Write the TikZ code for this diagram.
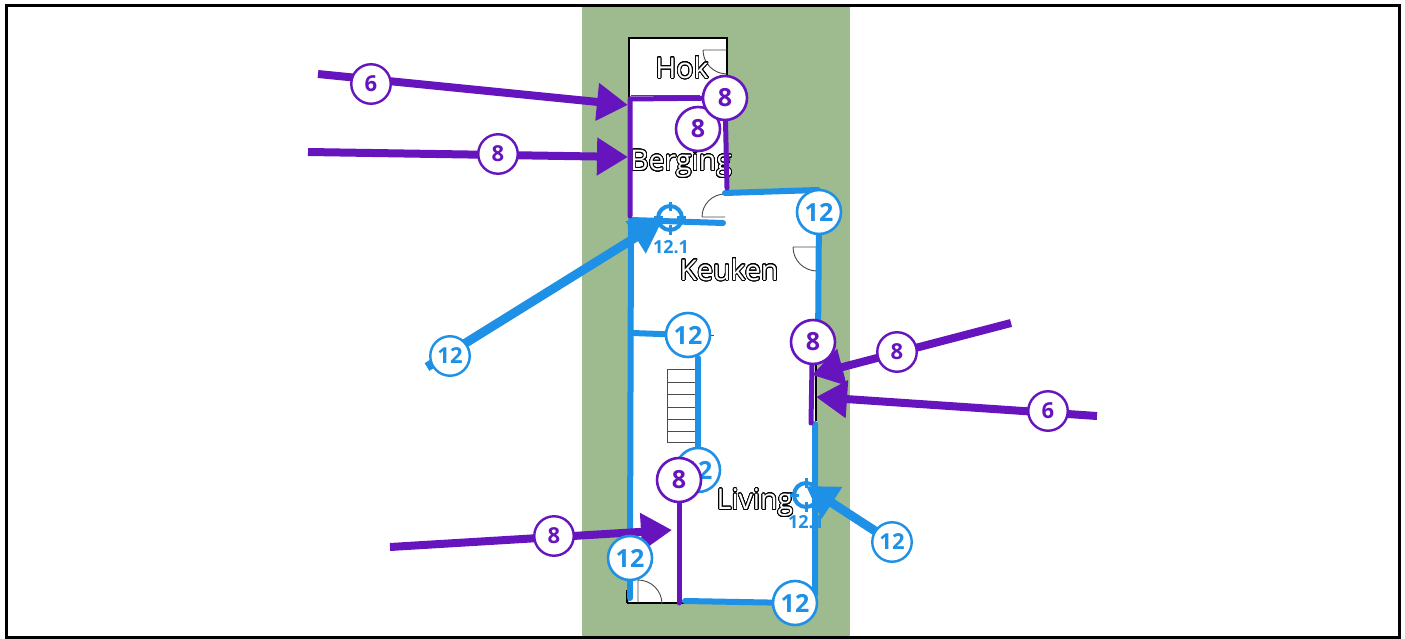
\documentclass[tikz,border=0pt]{standalone}
\usepackage{fontspec}
\setmainfont{Open Sans}
\usepackage[copies]{contour}
\contourlength{0.8pt}
\contournumber{32}
\usetikzlibrary{arrows.meta}
\definecolor{pur}{HTML}{6614BE}
\definecolor{blu}{HTML}{1E90E6}
\definecolor{grn}{HTML}{9DBB8F}
\tikzset{x=1pt,y=-1pt,
 bigb/.style={circle,draw,fill=white,line width=2.6pt,minimum size=44pt,inner sep=0pt,font=\fontsize{25}{25}\selectfont\bfseries},
 smallb/.style={circle,draw,fill=white,line width=2.4pt,minimum size=39.5pt,inner sep=0pt,font=\fontsize{22}{22}\selectfont\bfseries},
 purb/.style={draw=pur,text=pur},
 blub/.style={draw=blu,text=blu},
 wallp/.style={draw=pur,line width=5pt,line cap=round,line join=round},
 wallb/.style={draw=blu,line width=6pt,line cap=round,line join=round},
 arrp/.style={draw=pur,line width=8pt,-{Triangle[length=31pt,width=36pt]}},
 arrb/.style={draw=blu,line width=9pt,-{Triangle[length=31pt,width=36pt]}},
 room/.style={font=\fontsize{28.5}{28.5}\selectfont,inner sep=0pt},
 thin/.style={draw=black!70,line width=0.9pt},
 wall/.style={draw=black,line width=1.6pt},
 tlabel/.style={text=blu,font=\fontsize{18}{18}\selectfont\bfseries,inner sep=0pt},
 target/.style={circle,draw=blu,line width=4pt,fill=none,minimum size=24pt,inner sep=0pt},
 tick/.style={draw=blu,line width=3pt},
}
\newcommand{\roomtext}[1]{\contour{black}{\textcolor{white}{#1}}}
\begin{document}
\begin{tikzpicture}
\useasboundingbox (0,0) rectangle (1405,639);
\fill[white] (0,0) rectangle (1405,639);
\fill[grn] (582,6) rectangle (850,639);
% house
\fill[white] (629,38) -- (727,38) -- (727,192) -- (818,191) -- (816,603) -- (629,603) -- cycle;
\draw[wall] (629,100) -- (629,38) -- (727,38) -- (727,96);
\draw[thin] (631,95) -- (700,95);
\draw[wall] (627,603) -- (815,603);
\draw[wall] (627,603) -- (627,590);
\draw[wall] (816,365) -- (816,421);
% doors
\draw[thin] (703,50) -- (727,50) (703,50) arc[start angle=180,end angle=90,radius=24];
\draw[thin] (702,217) -- (725,217) (702,217) arc[start angle=180,end angle=270,radius=23];
\draw[thin] (793,247) -- (817,247) (793,247) arc[start angle=180,end angle=90,radius=24];
\draw[thin] (638,603) -- (638,580) arc[start angle=270,end angle=360,radius=24];
\draw[thin] (707,335) -- (714,335);
% stairs
\draw[thin] (667,369) rectangle (695,442);
\foreach \yy in {382,394,407,419,431}{\draw[thin] (667,\yy) -- (695,\yy);}
% room names
\node[room] (hok) at (682,68) {\roomtext{Hok}};
\node[room] (berging) at (681,164) {\roomtext{Berging}};
\node[room] (keuken) at (729,270) {\roomtext{Keuken}};
\node[room] (living) at (755,503) {\roomtext{Living}};
% free ends
\coordinate (pTL) at (630,99);
\coordinate (pBL) at (630,216);
\coordinate (pBR) at (727,188);
\coordinate (bK1) at (725,193);
\coordinate (bK1b) at (818,190);
\coordinate (bK2) at (723,223);
\coordinate (bK3) at (631,220);
\coordinate (bK4) at (630,598);
\coordinate (bL1) at (632,333);
\coordinate (bE1) at (818,345);
\coordinate (bE2) at (815,424);
\coordinate (bE3) at (815,595);
\coordinate (bS1) at (685,601);
\coordinate (bC) at (698,358);
\coordinate (pS) at (679,603);
\coordinate (pE) at (811,423);
\coordinate (pEt) at (812,365);
\coordinate (t1) at (318,74); \coordinate (h1) at (628,105);
\coordinate (t2) at (308,152); \coordinate (h2) at (628,157);
\coordinate (t3) at (1011,323); \coordinate (h3) at (812,375);
\coordinate (t4) at (1097,416); \coordinate (h4) at (816,397);
\coordinate (t5) at (390,547); \coordinate (h5) at (672,530);
\coordinate (t6) at (427,367); \coordinate (h6) at (662,221);
\coordinate (t7) at (892,542); \coordinate (h7) at (806,486);
% anchor points for the badges
\path
 coordinate (c1) at (725,98)
 coordinate (c2) at (698,129)
 coordinate (c3) at (819,212)
 coordinate (c4) at (688,335)
 coordinate (c5) at (813,342)
 coordinate (c6) at (698,470)
 coordinate (c7) at (679,480)
 coordinate (c8) at (630,558)
 coordinate (c9) at (795,603);
% walls
\draw[wallb] (bK1) -- (bK1b) -- (c3);
\draw[wallb] (c3) -- (bE1);
\draw[wallb] (bE2) -- (bE3) -- (c9);
\draw[wallb] (c9) -- (bS1);
\draw[wallb] (bK2) -- (bK3) -- (c8);
\draw[wallb] (c8) -- (bK4);
\draw[wallb] (bL1) -- (c4);
\draw[wallb] (bC) -- (c6);
\draw[wallp] (pBL) -- (pTL) -- (c1);
\draw[wallp] (c1) -- (pBR);
\draw[wallp] (c2) -- (c1);
\draw[wallp] (pEt) -- (pE);
\draw[wallp] (c7) -- (pS);
% targets
\node[target] (m1) at (670,218) {};
\draw[tick] (670,202) -- (670,211) (670,225) -- (670,235);
\draw[tick] (654,218) -- (663,218) (677,218) -- (686,218);
\node[tlabel] (l1) at (671,247) {12.1};
\node[target] (m2) at (806,495) {};
\draw[tick] (806,478) -- (806,488) (806,502) -- (806,512);
\draw[tick] (790,495) -- (799,495) (813,495) -- (822,495);
\node[tlabel] (l2) at (806,522) {12.1};
% arrows
\draw[arrp] (t1) -- (h1);
\draw[arrp] (t2) -- (h2);
\draw[arrp] (t3) -- (h3);
\draw[arrp] (t4) -- (h4);
\draw[arrp] (t5) -- (h5);
\draw[arrb] (t6) -- (h6);
\draw[arrb] (t7) -- (h7);
% badges
\node[bigb,blub] (n3) at (c3) {12};
\node[bigb,blub] (n4) at (c4) {12};
\node[bigb,blub] (n6) at (c6) {12};
\node[bigb,blub] (n8) at (c8) {12};
\node[bigb,blub] (n9) at (c9) {12};
\node[bigb,purb] (n2) at (c2) {8};
\node[bigb,purb] (n1) at (c1) {8};
\node[bigb,purb] (n5) at (c5) {8};
\node[bigb,purb] (n7) at (c7) {8};
\node[smallb,purb] (a1) at (371,84) {6};
\node[smallb,purb] (a2) at (498,154) {8};
\node[smallb,purb] (a3) at (897,352) {8};
\node[smallb,purb] (a4) at (1048,411) {6};
\node[smallb,purb] (a5) at (554,536) {8};
\node[smallb,blub] (a6) at (450,356) {12};
\node[smallb,blub] (a7) at (892,542) {12};
% frame
\draw[black,line width=3pt] (6,6) -- (1399,6) -- (1399,637.5) -- (6,637.5) -- cycle;
\end{tikzpicture}
\end{document}
